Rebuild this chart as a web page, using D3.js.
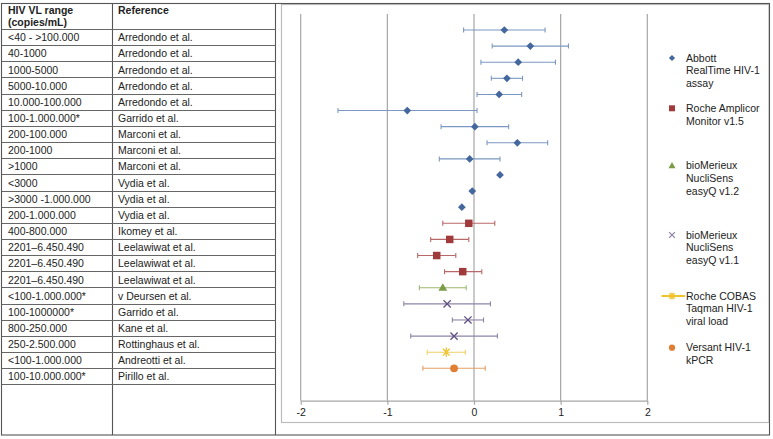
<!DOCTYPE html>
<html><head><meta charset="utf-8">
<script src="https://cdn.jsdelivr.net/npm/d3@7/dist/d3.min.js"></script>
<style>
html,body{margin:0;padding:0;background:#fff;}
svg{display:block;font-family:"Liberation Sans",Arial,sans-serif;}
</style></head>
<body>
<svg id="c" width="773" height="439"></svg>
<script>
// ---- data ----
const ranges = ["<40 - >100.000","40-1000","1000-5000","5000-10.000","10.000-100.000","100-1.000.000*",
  "200-100.000","200-1000",">1000","<3000",">3000 -1.000.000","200-1.000.000","400-800.000",
  "2201\u20136.450.490","2201\u20136.450.490","2201\u20136.450.490","<100-1.000.000*","100-1000000*",
  "800-250.000","250-2.500.000","<100-1.000.000","100-10.000.000*"];
const references = ["Arredondo et al.","Arredondo et al.","Arredondo et al.","Arredondo et al.","Arredondo et al.",
  "Garrido et al.","Marconi et al.","Marconi et al.","Marconi et al.","Vydia et al.","Vydia et al.","Vydia et al.",
  "Ikomey et al.","Leelawiwat et al.","Leelawiwat et al.","Leelawiwat et al.","v Deursen et al.","Garrido et al.",
  "Kane et al.","Rottinghaus et al.","Andreotti et al.","Pirillo et al."];
const assay    = [0,0,0,0,0,0,0,0,0,0,0,0,1,1,1,1,2,3,3,3,4,5];
const estimate = [0.35,0.65,0.51,0.38,0.29,-0.77,0.01,0.50,-0.05,0.30,-0.02,-0.14,
                  -0.06,-0.28,-0.43,-0.13,-0.36,-0.31,-0.07,-0.23,-0.32,-0.23];
const ciLow    = [-0.12,0.21,0.08,0.20,0.035,-1.57,-0.38,0.15,-0.40,null,null,null,
                  -0.36,-0.50,-0.65,-0.34,-0.63,-0.81,-0.25,-0.73,-0.54,-0.59];
const ciHigh   = [0.82,1.09,0.94,0.56,0.55,0.035,0.40,0.85,0.30,null,null,null,
                  0.24,-0.06,-0.21,0.09,-0.09,0.19,0.11,0.27,-0.10,0.13];
const assayNames = [["Abbott","RealTime HIV-1","assay"],["Roche Amplicor","Monitor v1.5"],
  ["bioMerieux","NucliSens","easyQ v1.2"],["bioMerieux","NucliSens","easyQ v1.1"],
  ["Roche COBAS","Taqman HIV-1","viral load"],["Versant HIV-1","kPCR"]];
const xTicks = [-2,-1,0,1,2];
const headers = [["HIV VL range","(copies/mL)"],["Reference"]];

// ---- styles ----
const markColor = ["#44679d","#a13b3b","#7d9c48","#5d5182","#f0c22c","#e07f34"];
const barColor  = ["#7b98c2","#b86868","#9db86f","#8d84a8","#efd061","#e3a067"];
const shapes = ["diamond","square","triangle","x","star","circle"];
const legendY = [58,108.3,165.7,235,296,347.7];

const svg = d3.select("#c");
const W = 773;

// ---- frames ----
svg.append("rect").attr("x",281.5).attr("y",4.5).attr("width",487.5).attr("height",418)
  .attr("fill","none").attr("stroke","#bdbdbd").attr("stroke-width",1.2);
svg.append("rect").attr("x",1.5).attr("y",3.5).attr("width",768).attr("height",431.5)
  .attr("fill","none").attr("stroke","#555").attr("stroke-width",1.1);
svg.append("line").attr("x1",275.5).attr("x2",275.5).attr("y1",3.5).attr("y2",435)
  .attr("stroke","#555").attr("stroke-width",1.1);
svg.append("line").attr("x1",112.5).attr("x2",112.5).attr("y1",3.5).attr("y2",435)
  .attr("stroke","#555").attr("stroke-width",1.1);

// ---- table ----
const tRow = d3.scaleLinear().domain([0,22]).range([29,384.3]);
const tbl = svg.append("g").attr("font-size","10.5px").attr("fill","#222");
d3.range(23).forEach(i=>{
  tbl.append("line").attr("x1",1.5).attr("x2",275.5).attr("y1",Math.round(tRow(i))+0.5).attr("y2",Math.round(tRow(i))+0.5)
    .attr("stroke","#666").attr("stroke-width",1);
});
const colX = [8,118];
headers.forEach((h,c)=>{
  h.forEach((t,j)=>{
    tbl.append("text").attr("x",colX[c]).attr("y",10+j*12.5).attr("dy","0.35em")
      .attr("font-weight","bold").text(t);
  });
});
ranges.forEach((t,i)=>{
  tbl.append("text").attr("x",colX[0]).attr("y",tRow(i+0.5)+0.5).attr("dy","0.35em").text(t);
  tbl.append("text").attr("x",colX[1]).attr("y",tRow(i+0.5)+0.5).attr("dy","0.35em").text(references[i]);
});

// ---- chart ----
const x = d3.scaleLinear().domain([-2,2]).range([300.7,647.3]);
const y = d3.scaleLinear().domain([0,21]).range([30,368.3]);
const axisY = 400.7, gridTop = 14;

svg.append("g").selectAll("line").data(xTicks).join("line")
  .attr("x1",d=>x(d)).attr("x2",d=>x(d)).attr("y1",gridTop).attr("y2",axisY)
  .attr("stroke","#a6a6a6").attr("stroke-width",1.2);

const ax = svg.append("g").attr("transform",`translate(0,${axisY})`)
  .call(d3.axisBottom(x).tickValues(xTicks).tickSize(4).tickPadding(4).tickSizeOuter(0)
    .tickFormat(d=>d3.format("d")(d).replace("\u2212","-")));
ax.select(".domain").attr("stroke","#a6a6a6").attr("stroke-width",1.2);
ax.selectAll(".tick line").attr("stroke","#a6a6a6").attr("stroke-width",1.2);
ax.selectAll(".tick text").attr("fill","#222").attr("font-size","10.5px")
  .attr("font-family","'Liberation Sans',Arial,sans-serif");

function drawMarker(g, shape, cx, cy, col, scale){
  const s = scale||1;
  if(shape==="diamond"){
    g.append("path").attr("d",d3.symbol(d3.symbolSquare, 30*s*s)())
      .attr("transform",`translate(${cx},${cy}) rotate(45)`).attr("fill",col);
  } else if(shape==="square"){
    g.append("path").attr("d",d3.symbol(d3.symbolSquare, 56*s*s)())
      .attr("transform",`translate(${cx},${cy})`).attr("fill",col);
  } else if(shape==="triangle"){
    g.append("path").attr("d",d3.symbol(d3.symbolTriangle, 34*s*s)())
      .attr("transform",`translate(${cx},${cy+0.5})`).attr("fill",col);
  } else if(shape==="x"){
    const r=3.6*s;
    g.append("path").attr("d",`M${-r},${-r}L${r},${r}M${-r},${r}L${r},${-r}`)
      .attr("transform",`translate(${cx},${cy})`).attr("stroke",col).attr("stroke-width",1.3).attr("fill","none");
  } else if(shape==="star"){
    const r=3.4*s;
    g.append("path").attr("d",`M${-r},${-r}L${r},${r}M${-r},${r}L${r},${-r}M0,${-r*1.35}L0,${r*1.35}`)
      .attr("transform",`translate(${cx},${cy})`).attr("stroke",col).attr("stroke-width",1.3).attr("fill","none");
  } else if(shape==="circle"){
    g.append("circle").attr("cx",cx).attr("cy",cy).attr("r",3.9*s).attr("fill",col);
  }
}

const pts = svg.append("g");
estimate.forEach((v,i)=>{
  const a = assay[i], cy = y(i);
  if(ciLow[i]!==null){
    const g = pts.append("g").attr("stroke",barColor[a]).attr("stroke-width",1.1);
    g.append("line").attr("x1",x(ciLow[i])).attr("x2",x(ciHigh[i])).attr("y1",cy).attr("y2",cy);
    g.append("line").attr("x1",x(ciLow[i])).attr("x2",x(ciLow[i])).attr("y1",cy-2.5).attr("y2",cy+2.5);
    g.append("line").attr("x1",x(ciHigh[i])).attr("x2",x(ciHigh[i])).attr("y1",cy-2.5).attr("y2",cy+2.5);
  }
  drawMarker(pts, shapes[a], x(v), cy, markColor[a], 1);
});

// ---- legend ----
const lg = svg.append("g").attr("font-size","10.5px").attr("fill","#222");
assayNames.forEach((lines,k)=>{
  const ly = legendY[k];
  if(shapes[k]==="star"){
    lg.append("line").attr("x1",661.5).attr("x2",685).attr("y1",ly).attr("y2",ly)
      .attr("stroke",markColor[k]).attr("stroke-width",2);
  }
  drawMarker(lg, shapes[k], 672, ly, shapes[k]==="x" ? "#8d84a8" : markColor[k], 0.8);
  lines.forEach((t,j)=>{
    lg.append("text").attr("x",686).attr("y",ly+j*12.6).attr("dy","0.35em").text(t);
  });
});
</script>
</body></html>
